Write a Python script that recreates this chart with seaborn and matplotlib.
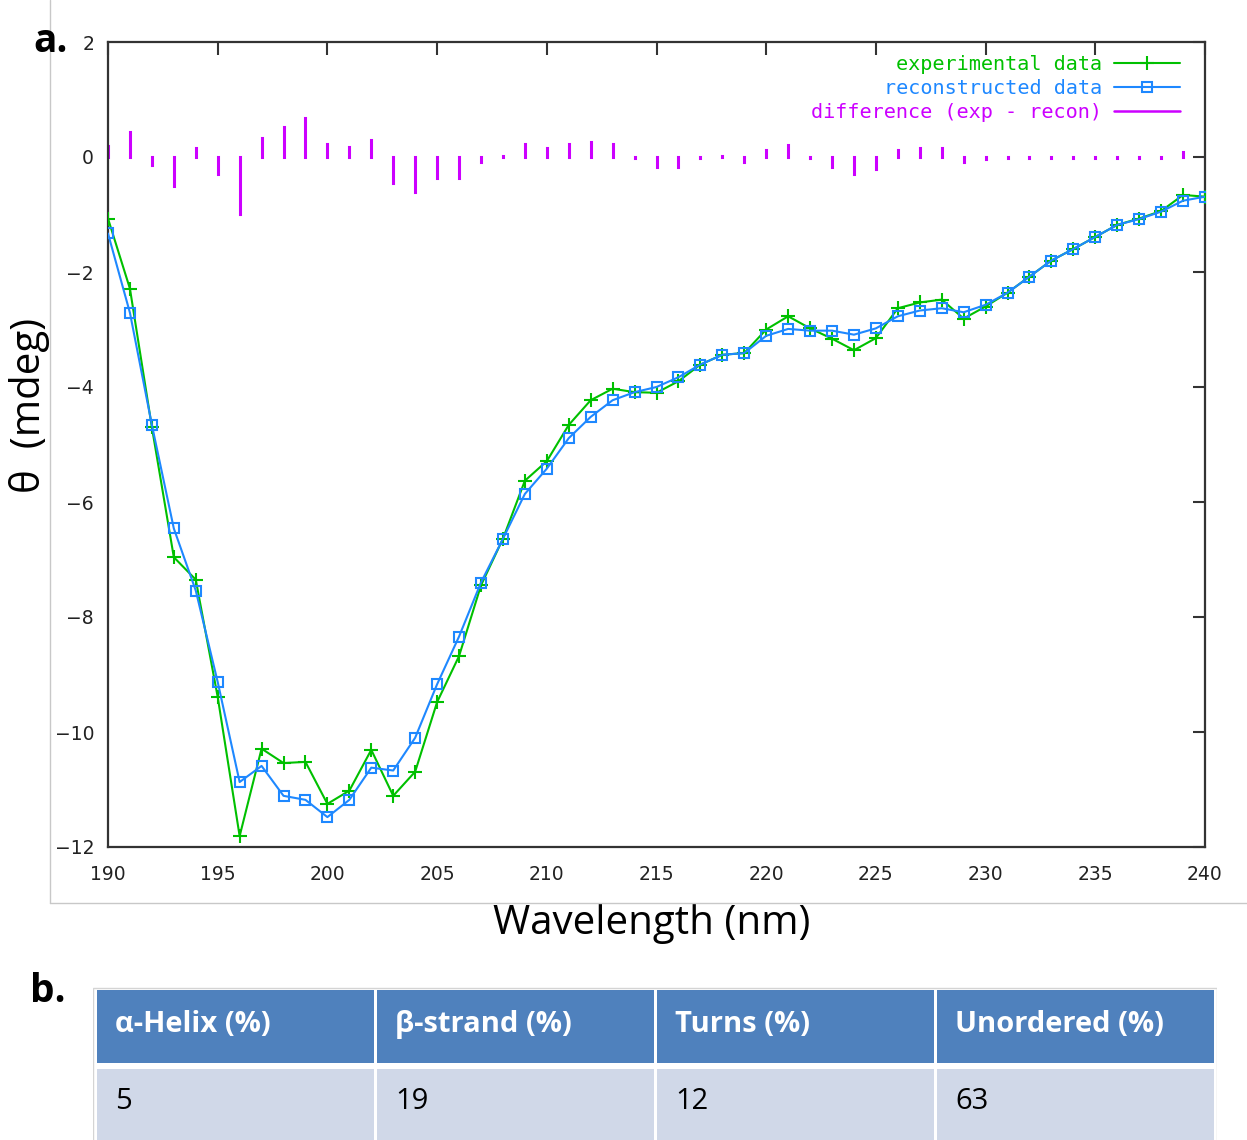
import numpy as np
import pandas as pd
import matplotlib
matplotlib.use("Agg")
import matplotlib.pyplot as plt
from matplotlib.patches import Rectangle
from matplotlib.lines import Line2D
import seaborn as sns

# ---- CD spectrum data (mdeg) ----
wavelength = np.arange(190, 241)
experimental = [
    -1.07, -2.29, -4.70, -6.96, -7.35, -9.39, -11.81, -10.29, -10.54, -10.52,
    -11.25, -11.02, -10.31, -11.11, -10.69, -9.48, -8.68, -7.45, -6.64, -5.63,
    -5.29, -4.66, -4.23, -4.03, -4.09, -4.10, -3.90, -3.61, -3.44, -3.41,
    -3.00, -2.77, -2.98, -3.16, -3.36, -3.15, -2.63, -2.53, -2.48, -2.81,
    -2.60, -2.36, -2.08, -1.80, -1.60, -1.39, -1.18, -1.07, -0.94, -0.66,
    -0.69,
]
reconstructed = [
    -1.33, -2.71, -4.66, -6.46, -7.54, -9.13, -10.87, -10.59, -11.11, -11.18,
    -11.48, -11.18, -10.62, -10.67, -10.10, -9.17, -8.34, -7.40, -6.64, -5.86,
    -5.42, -4.89, -4.52, -4.23, -4.09, -4.00, -3.83, -3.61, -3.44, -3.41,
    -3.11, -2.99, -3.02, -3.02, -3.09, -2.98, -2.77, -2.67, -2.63, -2.70,
    -2.57, -2.36, -2.08, -1.80, -1.60, -1.39, -1.18, -1.08, -0.95, -0.76,
    -0.69,
]
difference = [
    0.20, 0.43, -0.14, -0.50, 0.16, -0.29, -0.99, 0.33, 0.53, 0.67,
    0.22, 0.18, 0.29, -0.46, -0.61, -0.36, -0.36, -0.09, 0.01, 0.22,
    0.16, 0.22, 0.26, 0.22, -0.01, -0.17, -0.17, -0.02, 0.01, -0.09,
    0.12, 0.21, -0.02, -0.17, -0.29, -0.21, 0.12, 0.16, 0.16, -0.09,
    -0.03, -0.02, -0.02, -0.02, -0.02, -0.02, -0.02, -0.02, -0.02, 0.08,
    -0.01,
]

# ---- secondary structure table ----
table_headers = ["α-Helix (%)", "β-strand (%)", "Turns (%)", "Unordered (%)"]
table_values = ["5", "19", "12", "63"]

W, H = 1247, 1140
GREEN = "#00c000"
BLUE = "#1e88ff"
MAGENTA = "#cc00ff"
FRAME = "#333333"
LABEL_FONT = ["Open Sans", "DejaVu Sans"]

sns.set_theme(style="white")
plt.rcParams["font.family"] = ["DejaVu Sans"]

fig = plt.figure(figsize=(W / 100, H / 100), dpi=100)
fig.patch.set_facecolor("white")


def fx(px):
    return px / W


def fy(py):
    return 1 - py / H


# light frame around panel a
fig.add_artist(Line2D([fx(50), fx(50)], [fy(0), fy(903)], color="#c8c8c8", lw=1.0))
fig.add_artist(Line2D([fx(50), fx(1247)], [fy(903), fy(903)], color="#c8c8c8", lw=1.0))

ax = fig.add_axes([fx(108), fy(847), fx(1205) - fx(108), fy(42) - fy(847)])
ax.set_facecolor("white")

df = pd.DataFrame({
    "wavelength": wavelength,
    "experimental": experimental,
    "reconstructed": reconstructed,
})

ax.vlines(wavelength, 0, difference, colors=MAGENTA, linewidth=2.2,
          capstyle="projecting", zorder=2)
sns.lineplot(data=df, x="wavelength", y="experimental", ax=ax, color=GREEN,
             linewidth=1.5, marker="+", markersize=9.5, markeredgewidth=1.5,
             markeredgecolor=GREEN, zorder=3)
sns.lineplot(data=df, x="wavelength", y="reconstructed", ax=ax, color=BLUE,
             linewidth=1.5, marker="s", markersize=7.5, markerfacecolor="none",
             markeredgecolor=BLUE, markeredgewidth=1.5, zorder=4)

ax.set_xlim(190, 240)
ax.set_ylim(-12, 2)
ax.set_xticks(np.arange(190, 241, 5))
ax.set_yticks(np.arange(-12, 3, 2))
ax.tick_params(direction="in", length=9, width=1.5, top=True, right=True,
               labelsize=13.5, colors=FRAME, labelcolor="#222222")
ax.tick_params(axis="x", pad=13)
ax.tick_params(axis="y", pad=10)
for sp in ax.spines.values():
    sp.set_visible(True)
    sp.set_color(FRAME)
    sp.set_linewidth(1.6)

ax.set_xlabel("Wavelength (nm)", fontsize=29, family=LABEL_FONT, color="black")
ax.xaxis.label.set_verticalalignment("center")
ax.xaxis.set_label_coords((652 - 108) / 1097, -(924 - 847) / 805)
ax.set_ylabel("θ  (mdeg)", fontsize=29, family=LABEL_FONT, color="black")
ax.yaxis.label.set_verticalalignment("center")
ax.yaxis.set_label_coords((30 - 108) / 1097, (847 - 405) / 805)

handles = [
    Line2D([], [], color=GREEN, lw=1.5, marker="+", ms=9.5, mew=1.5),
    Line2D([], [], color=BLUE, lw=1.5, marker="s", ms=7.5, mfc="none", mew=1.5),
    Line2D([], [], color=MAGENTA, lw=1.8),
]
labels = ["experimental data", "reconstructed data", "difference (exp - recon)"]
leg = ax.legend(handles, labels, loc="upper right", bbox_to_anchor=(0.994, 1.006),
                frameon=False, markerfirst=False, handlelength=3.3,
                handletextpad=0.6, labelspacing=0.25,
                prop={"family": "DejaVu Sans Mono", "size": 14.5})
for txt, col in zip(leg.get_texts(), [GREEN, BLUE, MAGENTA]):
    txt.set_color(col)

fig.text(fx(33), fy(41), "a.", fontsize=28, fontweight="bold", family=LABEL_FONT,
         ha="left", va="center", color="black")
fig.text(fx(30), fy(992), "b.", fontsize=28, fontweight="bold", family=LABEL_FONT,
         ha="left", va="center", color="black")

# ---- panel b: table ----
tax = fig.add_axes([fx(93), 0, fx(1217) - fx(93), fy(986)])
tax.set_xlim(93, 1217)
tax.set_ylim(1140, 986)
tax.axis("off")
tax.add_patch(Rectangle((93, 988), 1124, 160, facecolor="white",
                        edgecolor="#d4d4d4", lw=1.0))
col_w = 280
for i, (head, val) in enumerate(zip(table_headers, table_values)):
    x0 = 95 + col_w * i
    tax.add_patch(Rectangle((x0 + 1.5, 990), col_w - 3, 73,
                            facecolor="#4f81bd", edgecolor="none"))
    tax.add_patch(Rectangle((x0 + 1.5, 1069), col_w - 3, 80,
                            facecolor="#d0d8e8", edgecolor="none"))
    tax.text(x0 + 20, 1025, head, color="white", fontsize=21, fontweight="bold",
             family=LABEL_FONT, ha="left", va="center")
    tax.text(x0 + 20, 1102, val, color="black", fontsize=21,
             family=LABEL_FONT, ha="left", va="center")

fig.savefig("out.png", dpi=100, facecolor="white")
